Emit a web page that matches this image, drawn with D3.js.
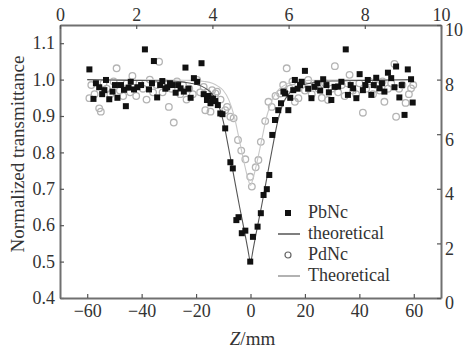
<!DOCTYPE html>
<html>
<head>
<meta charset="utf-8">
<script src="https://cdn.jsdelivr.net/npm/d3@7"></script>
<style>
  body { margin: 0; background: #fff; }
  text { font-family: "Liberation Serif", "Times New Roman", serif; fill: #333; }
</style>
</head>
<body>
<div id="chart"></div>
<script>
// PbNc measured (Z in mm, normalized transmittance)
const pbZ = [-59.2,-57.7,-56.8,-55.6,-54.5,-53.7,-53.1,-51.9,-50.7,-49.8,-48.9,-47.6,-46.5,-45.8,-44.8,-44.0,-42.8,-41.6,-40.2,-38.8,
  -37.3,-36.2,-35.5,-34.3,-33.2,-32.4,-31.3,-30.6,-29.6,-28.8,-27.5,-26.6,-25.7,-24.5,-23.9,-22.8,-22.0,-20.8,-19.6,-18.0,
  -17.2,-16.0,-15.4,-14.7,-13.8,-12.9,-12.0,-11.1,-10.3,-9.3,-7.4,-6.5,-5.2,-4.4,-3.2,-1.9,-0.1,0.9,2.6,3.8,
  4.8,6.0,6.9,8.0,9.0,10.2,11.2,12.1,12.7,13.9,14.6,15.7,16.3,17.3,18.2,18.8,20.0,21.2,22.4,23.5,
  24.6,25.6,26.7,27.9,28.8,29.7,30.9,32.2,33.4,35.0,35.8,36.8,37.7,38.9,40.1,41.3,42.2,43.1,44.4,45.3,
  46.2,47.4,48.3,49.2,50.5,51.7,52.9,53.5,54.7,55.6,56.6,57.8,59.0,59.6];
const pbT = [1.028,0.947,0.990,0.979,0.960,0.971,0.999,0.946,0.967,0.985,0.950,0.985,0.972,0.927,0.978,0.994,0.973,0.979,0.985,1.083,
  0.973,0.990,1.051,0.951,0.985,0.996,0.975,0.979,0.990,0.985,0.964,0.985,0.976,0.967,1.033,0.975,0.950,1.004,0.994,1.045,
  0.960,0.944,0.955,0.935,0.948,0.941,0.930,0.907,0.905,0.866,0.773,0.756,0.614,0.622,0.578,0.585,0.500,0.568,0.596,0.633,
  0.683,0.699,0.738,0.848,0.889,0.916,0.935,0.967,0.962,0.916,0.950,0.971,0.999,0.975,0.985,0.994,1.024,0.975,0.949,0.980,
  0.990,0.970,1.001,0.985,0.965,0.944,0.980,0.981,0.994,1.083,0.958,0.985,0.976,0.949,1.015,0.971,0.985,0.999,0.958,0.985,
  1.005,0.976,0.990,0.967,1.019,1.004,0.979,1.036,0.951,0.985,0.903,1.028,1.001,0.937];

// PdNc measured
const pdZ = [-59.2,-58.5,-57.3,-55.6,-55.0,-54.0,-52.8,-51.5,-50.3,-49.2,-48.0,-46.8,-45.5,-44.2,-43.4,-42.0,-40.8,-39.5,-38.2,-37.0,
  -35.8,-34.5,-33.6,-32.3,-31.2,-30.0,-29.0,-28.2,-27.0,-25.8,-24.8,-23.5,-22.5,-21.2,-19.6,-18.5,-17.2,-16.6,-16.0,-14.7,
  -14.1,-12.9,-12.3,-11.0,-9.3,-8.6,-7.4,-6.2,-4.6,-3.4,-1.9,-0.1,0.5,1.9,2.9,3.8,5.4,6.6,7.8,9.2,
  10.9,12.0,13.3,14.5,15.4,16.3,17.6,18.8,20.0,21.2,22.5,23.8,25.0,26.2,27.4,28.5,29.8,31.0,32.2,33.5,
  34.6,35.5,36.4,37.6,38.8,40.0,41.3,42.5,43.7,45.0,46.2,47.5,48.5,49.2,50.5,51.7,52.9,53.5,54.6,55.8,
  57.0,58.2,59.0,59.8];
const pdT = [0.949,0.985,0.960,0.921,0.912,0.990,0.975,0.960,0.995,1.031,0.970,0.955,0.990,0.965,1.010,0.955,0.990,0.975,0.945,1.000,
  0.965,0.985,1.049,0.965,0.990,0.925,0.975,0.882,0.995,0.960,0.985,0.945,0.975,0.960,0.999,0.965,0.980,0.916,0.965,0.912,
  0.971,0.962,0.967,0.945,0.916,0.925,0.898,0.894,0.834,0.805,0.781,0.733,0.706,0.759,0.779,0.829,0.886,0.939,0.925,0.955,
  0.962,0.985,1.031,0.975,0.995,0.939,0.949,0.985,0.970,0.999,0.960,0.985,0.975,0.950,0.990,0.944,0.975,1.037,0.965,0.985,
  0.955,0.990,1.013,0.970,0.960,0.990,0.909,0.975,0.995,0.960,0.985,0.970,0.995,0.939,0.975,0.990,1.043,0.898,0.975,0.985,
  0.936,0.960,0.976,0.985];

// theoretical fits
const thZ = [-60,-45,-30,-22,-17,-14,-12,-10,-8,-6,-4,-2,-1,0,1,2,4,6,8,10,12,14,17,22,30,45,60];
const thPb = [1.0,0.998,0.996,0.99,0.978,0.96,0.935,0.885,0.81,0.73,0.65,0.575,0.535,0.50,0.535,0.575,0.65,0.73,0.81,0.885,0.935,0.96,0.978,0.99,0.996,0.998,1.0];
const thPd = [1.0,1.0,0.999,0.998,0.995,0.99,0.982,0.97,0.945,0.90,0.83,0.76,0.73,0.71,0.73,0.76,0.83,0.90,0.945,0.97,0.982,0.99,0.995,0.998,0.999,1.0,1.0];

const yTicks = [0.4,0.5,0.6,0.7,0.8,0.9,1.0,1.1];
const xTicks = [-60,-40,-20,0,20,40,60];
const topTicks = [0,2,4,6,8,10];
const rightTicks = [0,2,4,6,8,10];
const legendLabels = ['PbNc','theoretical','PdNc','Theoretical'];

const W = 464, H = 350;
const margin = { top: 25, right: 23, bottom: 52, left: 60 };
const width = W - margin.left - margin.right;
const height = H - margin.top - margin.bottom;

const svg = d3.select('#chart').append('svg')
  .attr('width', W).attr('height', H);
const g = svg.append('g').attr('transform', `translate(${margin.left},${margin.top})`);

const x = d3.scaleLinear().domain([-70, 70]).range([0, width]);
const y = d3.scaleLinear().domain([0.4, 1.15]).range([height, 0]);
const xTop = d3.scaleLinear().domain([0, 10]).range([0, width]);
const yRight = d3.scaleLinear().domain([0, 10]).range([height, 0]);

const fmt1 = d3.format('.1f');

// PdNc circles
g.selectAll('.pd').data(pdZ).enter().append('circle')
  .attr('cx', d => x(d))
  .attr('cy', (d, i) => y(pdT[i]))
  .attr('r', 3.3)
  .attr('fill', 'none')
  .attr('stroke', '#b4b4b4')
  .attr('stroke-width', 1.3);

const line = d3.line().curve(d3.curveMonotoneX);
g.append('path')
  .attr('d', line(thZ.map((d, i) => [x(d), y(thPd[i])])))
  .attr('fill', 'none').attr('stroke', '#c8c8c8').attr('stroke-width', 1.1);
g.append('path')
  .attr('d', line(thZ.map((d, i) => [x(d), y(thPb[i])])))
  .attr('fill', 'none').attr('stroke', '#555').attr('stroke-width', 1.1);

// PbNc squares
g.selectAll('.pb').data(pbZ).enter().append('rect')
  .attr('x', d => x(d) - 3)
  .attr('y', (d, i) => y(pbT[i]) - 3)
  .attr('width', 6).attr('height', 6)
  .attr('fill', '#111');

// axes
function styleAxis(sel) {
  sel.selectAll('path.domain').attr('stroke', '#707070').attr('stroke-width', 2);
  sel.selectAll('.tick line').attr('stroke', '#555').attr('stroke-width', 1.2);
  sel.selectAll('.tick text')
    .attr('fill', '#333')
    .style('font-family', '"Liberation Serif", serif')
    .style('font-size', '18px');
}

g.append('g')
  .call(d3.axisLeft(y).tickValues(yTicks).tickFormat(fmt1).tickSize(-4).tickSizeOuter(0).tickPadding(5))
  .call(styleAxis);

g.append('g')
  .attr('transform', `translate(0,${height})`)
  .call(d3.axisBottom(x).tickValues(xTicks).tickSize(-4).tickSizeOuter(0).tickPadding(6))
  .call(styleAxis);

g.append('g')
  .call(d3.axisTop(xTop).tickValues(topTicks).tickSize(-4).tickSizeOuter(0).tickPadding(4))
  .call(styleAxis);

const gr = g.append('g')
  .attr('transform', `translate(${width},0)`)
  .call(d3.axisRight(yRight).tickValues(rightTicks).tickSize(-4).tickSizeOuter(0).tickPadding(4))
  .call(styleAxis);
gr.selectAll('.tick text').attr('dy', '0.6em');

// titles
svg.append('text')
  .attr('transform', `translate(24,154) rotate(-90)`)
  .attr('text-anchor', 'middle')
  .style('font-size', '19px')
  .text('Normalized transmittance');

const xt = svg.append('text')
  .attr('x', margin.left + x(0) + 2)
  .attr('y', 345)
  .attr('text-anchor', 'middle')
  .style('font-size', '19px');
xt.append('tspan').style('font-style', 'italic').text('Z');
xt.append('tspan').text('/mm');

// legend
const lg = svg.append('g').attr('transform', 'translate(278,213)');
const rowH = 21;
lg.append('rect').attr('x', 7).attr('y', -3).attr('width', 6).attr('height', 6).attr('fill', '#111');
lg.append('line').attr('x1', 0).attr('x2', 22).attr('y1', rowH).attr('y2', rowH)
  .attr('stroke', '#555').attr('stroke-width', 1.5);
lg.append('circle').attr('cx', 10).attr('cy', rowH * 2).attr('r', 3)
  .attr('fill', 'none').attr('stroke', '#666').attr('stroke-width', 1.2);
lg.append('line').attr('x1', 0).attr('x2', 22).attr('y1', rowH * 3).attr('y2', rowH * 3)
  .attr('stroke', '#999').attr('stroke-width', 1.5);
lg.selectAll('.lt').data(legendLabels).enter().append('text')
  .attr('x', 30)
  .attr('y', (d, i) => i * rowH + 5)
  .attr('fill', (d, i) => i < 2 ? '#333' : '#555')
  .style('font-size', '18px')
  .text(d => d);
</script>
</body>
</html>
